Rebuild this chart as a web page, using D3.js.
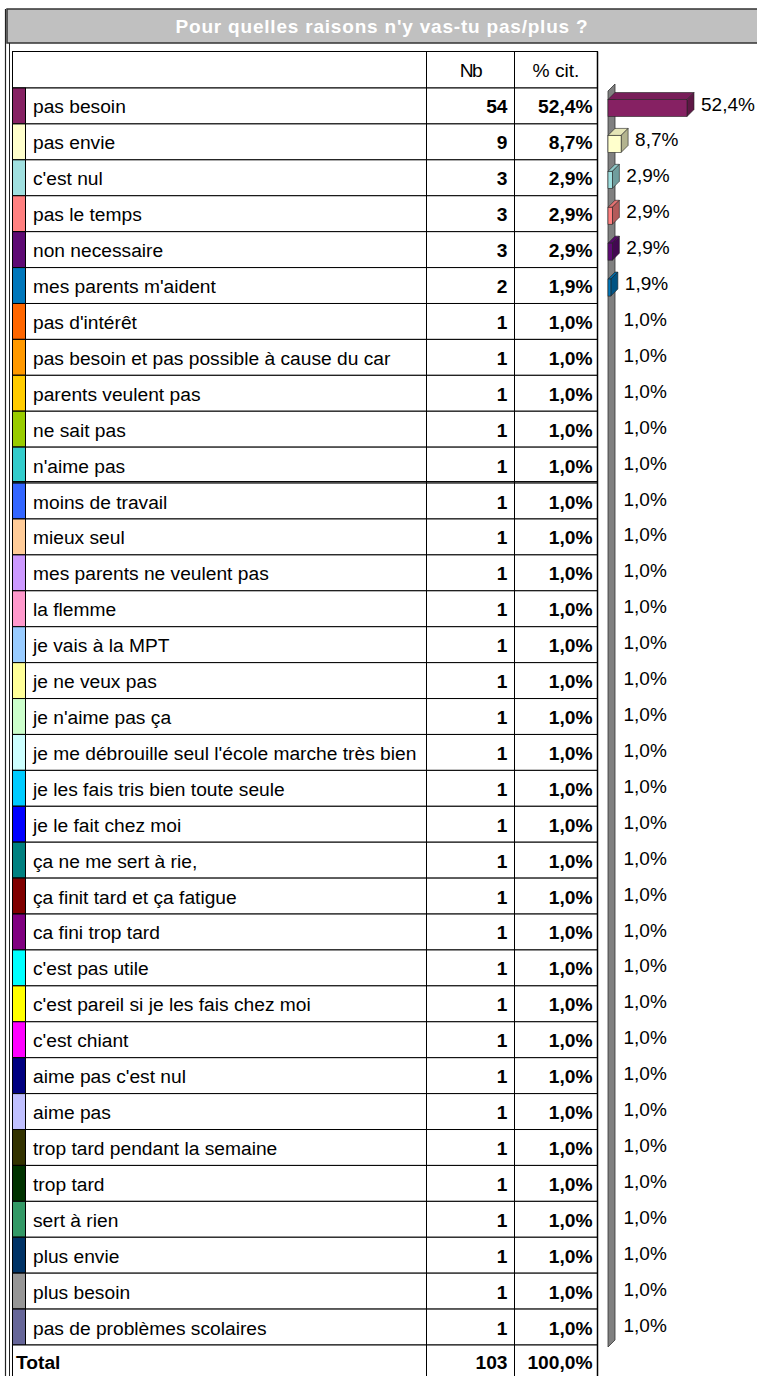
<!DOCTYPE html>
<html>
<head>
<meta charset="utf-8">
<script src="https://cdn.jsdelivr.net/npm/d3@7"></script>
<style>
  body { margin: 0; background: #fff; }
  svg { display: block; font-family: "Liberation Sans", Arial, sans-serif; }
</style>
</head>
<body>
<div id="chart"></div>
<script>
const title = "Pour quelles raisons n'y vas-tu pas/plus ?";

const categories = [
  "pas besoin", "pas envie", "c'est nul", "pas le temps", "non necessaire",
  "mes parents m'aident", "pas d'intérêt", "pas besoin et pas possible à cause du car",
  "parents veulent pas", "ne sait pas", "n'aime pas", "moins de travail", "mieux seul",
  "mes parents ne veulent pas", "la flemme", "je vais à la MPT", "je ne veux pas",
  "je n'aime pas ça", "je me débrouille seul l'école marche très bien",
  "je les fais tris bien toute seule", "je le fait chez moi", "ça ne me sert à rie,",
  "ça finit tard et ça fatigue", "ca fini trop tard", "c'est pas utile",
  "c'est pareil si je les fais chez moi", "c'est chiant", "aime pas c'est nul",
  "aime pas", "trop tard pendant la semaine", "trop tard", "sert à rien",
  "plus envie", "plus besoin", "pas de problèmes scolaires"
];

const counts = [54, 9, 3, 3, 3, 2, 1, 1, 1, 1, 1, 1, 1, 1, 1, 1, 1, 1, 1, 1, 1, 1, 1, 1, 1, 1, 1, 1, 1, 1, 1, 1, 1, 1, 1];

const percents = [52.4, 8.7, 2.9, 2.9, 2.9, 1.9, 1.0, 1.0, 1.0, 1.0, 1.0, 1.0, 1.0, 1.0, 1.0, 1.0, 1.0, 1.0, 1.0, 1.0, 1.0, 1.0, 1.0, 1.0, 1.0, 1.0, 1.0, 1.0, 1.0, 1.0, 1.0, 1.0, 1.0, 1.0, 1.0];

const palette = [
  "#862163", "#ffffcc", "#a0e0e0", "#ff8080", "#5e0a74", "#0077bb", "#ff6600",
  "#ff9900", "#ffcc00", "#99cc00", "#33cccc", "#3366ff", "#ffcc99", "#cc99ff",
  "#ff99cc", "#99ccff", "#ffff99", "#ccffcc", "#ccffff", "#00ccff", "#0000ff",
  "#008080", "#800000", "#800080", "#00ffff", "#ffff00", "#ff00ff", "#000080",
  "#c0c0ff", "#333300", "#003300", "#339966", "#003366", "#969696", "#666699"
];

const headers = ["Nb", "% cit."];
const totalLabel = "Total";
const totalCount = 103;
const totalPercent = 100.0;

const fmt = v => v.toFixed(1).replace(".", ",") + "%";

const W = 757, H = 1376;
const fontSize = "19.2px";

const svg = d3.select("#chart").append("svg")
  .attr("width", W).attr("height", H);

// frame + title bar
svg.append("rect").attr("x", 7).attr("y", 9).attr("width", W).attr("height", 34)
  .attr("fill", "#c0c0c0").attr("stroke", "#333").attr("stroke-width", 1.5);
svg.append("line").attr("x1", 5.5).attr("x2", 5.5).attr("y1", 9).attr("y2", H)
  .attr("stroke", "#222").attr("stroke-width", 1.2);
svg.append("line").attr("x1", 9.5).attr("x2", 9.5).attr("y1", 43).attr("y2", H)
  .attr("stroke", "#222").attr("stroke-width", 1);
svg.append("text")
  .attr("x", 382).attr("y", 26)
  .attr("text-anchor", "middle").attr("dominant-baseline", "central")
  .attr("fill", "#fff").attr("font-weight", "bold").attr("font-size", "19px")
  .attr("letter-spacing", "0.8px")
  .text(title);

// table geometry
const tLeft = 12.5, swatchR = 25.5, colNb = 426.5, colPct = 514.5, tRight = 597.5;
const headTop = 51.5, rowsTop = 88, rowsBottom = 1345;

const y = d3.scaleBand().domain(categories).range([rowsTop, rowsBottom]);
const rh = y.bandwidth();

const table = svg.append("g");

// header
table.append("rect").attr("x", tLeft).attr("y", headTop)
  .attr("width", tRight - tLeft).attr("height", rowsTop - headTop)
  .attr("fill", "#fff").attr("stroke", "#000");
table.selectAll(".hdr").data(headers).enter().append("text")
  .attr("x", (d, i) => i === 0 ? (colNb + colPct) / 2 : (colPct + tRight) / 2)
  .attr("y", (rowsTop + headTop) / 2 + 1)
  .attr("text-anchor", "middle").attr("dominant-baseline", "central")
  .attr("font-size", fontSize)
  .attr("letter-spacing", (d, i) => i === 0 ? "-1.5px" : null)
  .text(d => d);

const rows = table.selectAll(".row").data(categories).enter().append("g")
  .attr("transform", d => `translate(0,${y(d)})`);

rows.append("rect").attr("x", tLeft).attr("width", tRight - tLeft).attr("height", rh)
  .attr("fill", "#fff").attr("stroke", "#000");
rows.append("rect").attr("x", tLeft).attr("width", swatchR - tLeft).attr("height", rh)
  .attr("fill", (d, i) => palette[i]).attr("stroke", "#000");
rows.append("text").attr("x", 33).attr("y", rh / 2 + 1)
  .attr("dominant-baseline", "central").attr("font-size", fontSize)
  .text(d => d);
rows.append("text").attr("x", colPct - 7).attr("y", rh / 2 + 1)
  .attr("text-anchor", "end").attr("dominant-baseline", "central")
  .attr("font-size", fontSize).attr("font-weight", "bold")
  .text((d, i) => counts[i]);
rows.append("text").attr("x", tRight - 5).attr("y", rh / 2 + 1)
  .attr("text-anchor", "end").attr("dominant-baseline", "central")
  .attr("font-size", fontSize).attr("font-weight", "bold")
  .text((d, i) => fmt(percents[i]));

// total row
const tot = table.append("g").attr("transform", `translate(0,${rowsBottom})`);
tot.append("rect").attr("x", tLeft).attr("width", tRight - tLeft).attr("height", rh)
  .attr("fill", "#fff").attr("stroke", "#000");
tot.append("text").attr("x", 16).attr("y", rh / 2).attr("dominant-baseline", "central")
  .attr("font-size", fontSize).attr("font-weight", "bold").text(totalLabel);
tot.append("text").attr("x", colPct - 7).attr("y", rh / 2).attr("text-anchor", "end")
  .attr("dominant-baseline", "central").attr("font-size", fontSize).attr("font-weight", "bold")
  .text(totalCount);
tot.append("text").attr("x", tRight - 5).attr("y", rh / 2).attr("text-anchor", "end")
  .attr("dominant-baseline", "central").attr("font-size", fontSize).attr("font-weight", "bold")
  .text(fmt(totalPercent));

// column lines + double separator after "n'aime pas"
[colNb, colPct].forEach(cx => {
  table.append("line").attr("x1", cx).attr("x2", cx).attr("y1", headTop).attr("y2", H)
    .attr("stroke", "#000");
});
table.append("line").attr("x1", tRight).attr("x2", tRight).attr("y1", headTop).attr("y2", H)
  .attr("stroke", "#000").attr("stroke-width", 1.5);
const brk = y(categories[11]);
table.append("line").attr("x1", tLeft).attr("x2", tRight).attr("y1", brk - 1.5).attr("y2", brk - 1.5)
  .attr("stroke", "#000");

// 3D bar chart
const x0 = 608, dx = 7, dy = -7;
const x = d3.scaleLinear().domain([0, d3.max(percents)]).range([x0, x0 + 79]);

const chart = svg.append("g");
chart.append("path")
  .attr("d", `M${x0},${rowsTop + 3}L${x0 + dx},${rowsTop + 3 + dy}L${x0 + dx},${rowsBottom + 2 + dy}L${x0},${rowsBottom + 2}Z`)
  .attr("fill", "#808080").attr("stroke", "#333").attr("stroke-width", 0.8);

const barH = 17;
const bars = chart.selectAll(".bar").data(categories).enter().append("g")
  .attr("transform", d => `translate(0,${y(d) + 11.5})`);

bars.filter((d, i) => x(percents[i]) - x0 >= 2).each(function (d) {
  const idx = categories.indexOf(d);
  const g = d3.select(this);
  const c = d3.color(palette[idx]);
  const xr = x(percents[idx]);
  g.append("path")
    .attr("d", `M${x0},0L${x0 + dx},${dy}L${xr + dx},${dy}L${xr},0Z`)
    .attr("fill", c.darker(0.3)).attr("stroke", "#222").attr("stroke-width", 0.6);
  g.append("path")
    .attr("d", `M${xr},0L${xr + dx},${dy}L${xr + dx},${barH + dy}L${xr},${barH}Z`)
    .attr("fill", c.darker(1)).attr("stroke", "#222").attr("stroke-width", 0.6);
  g.append("rect").attr("x", x0).attr("y", 0).attr("width", xr - x0).attr("height", barH)
    .attr("fill", c).attr("stroke", "#222").attr("stroke-width", 0.6);
});

bars.append("text")
  .attr("x", (d, i) => Math.max(x(percents[i]) + dx, x0 + dx) + 7)
  .attr("y", barH / 2 - 4)
  .attr("dominant-baseline", "central")
  .attr("font-size", "19px")
  .text((d, i) => fmt(percents[i]));
</script>
</body>
</html>
